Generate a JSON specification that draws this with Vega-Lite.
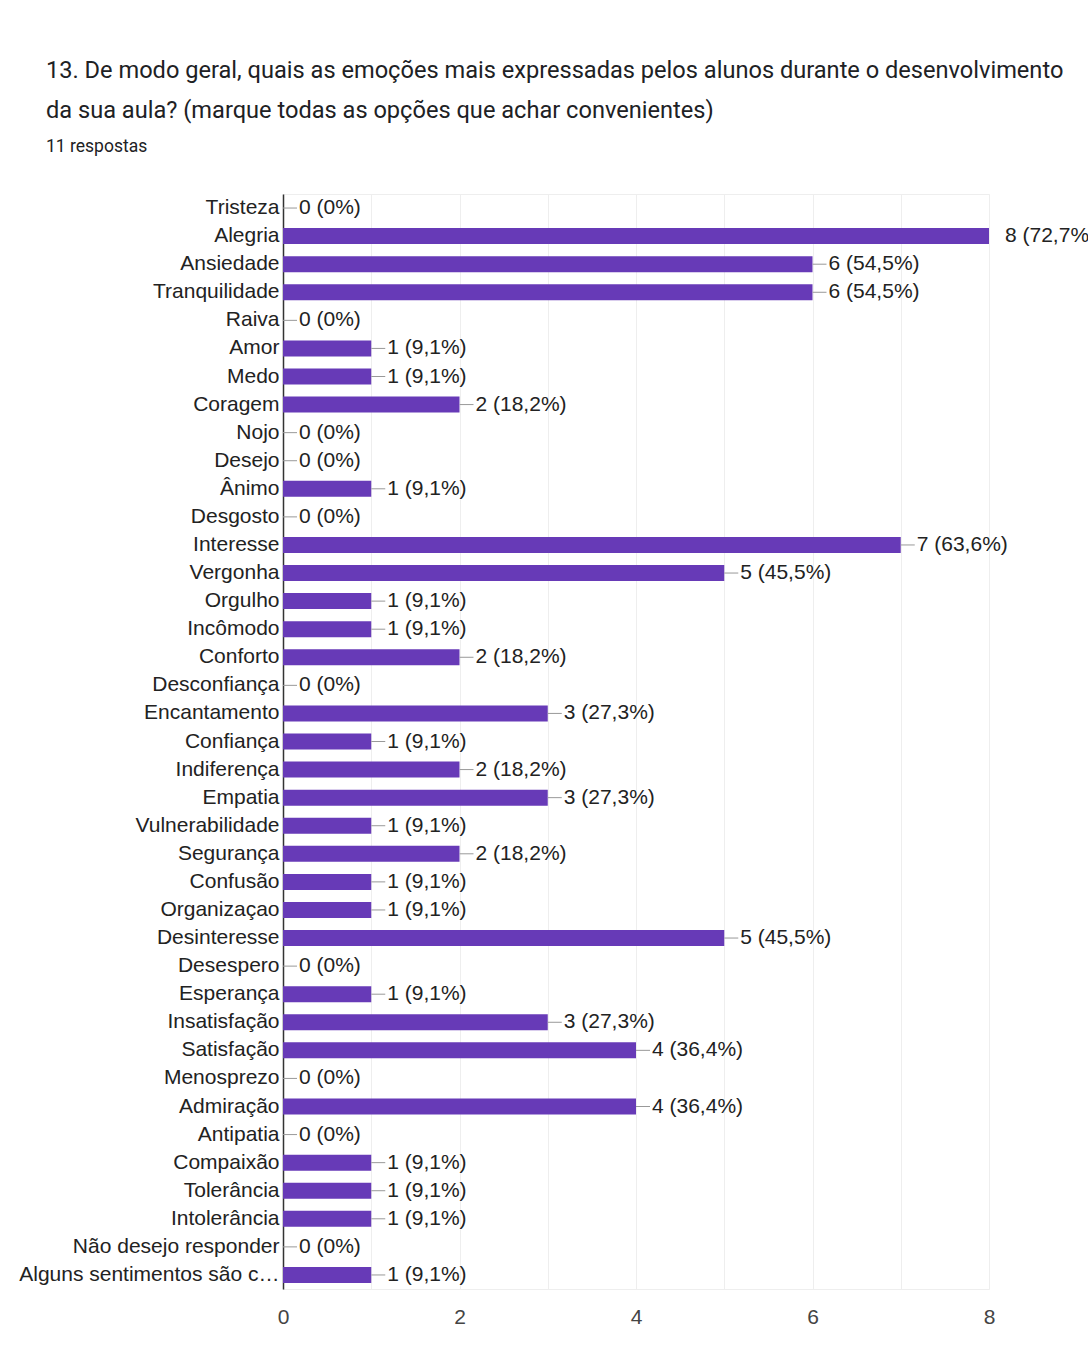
{
  "$schema": "https://vega.github.io/schema/vega-lite/v6.json",
  "autosize": {"type": "none"},
  "width": 706,
  "height": 1095,
  "padding": {"left": 283, "top": 194, "right": 99, "bottom": 63},
  "background": "#ffffff",
  "title": {
    "text": ["13. De modo geral, quais as emoções mais expressadas pelos alunos durante o desenvolvimento", "da sua aula? (marque todas as opções que achar convenientes)"],
    "subtitle": "11 respostas",
    "anchor": "start",
    "frame": "group",
    "dx": -237,
    "offset": 39,
    "font": "Roboto",
    "fontSize": 23.6,
    "fontWeight": "normal",
    "color": "#202124",
    "lineHeight": 40,
    "subtitleFont": "Roboto",
    "subtitleFontSize": 17.5,
    "subtitleColor": "#202124",
    "subtitlePadding": 15
  },
  "config": {
    "view": {"stroke": "#eeeeee"},
    "font": "Liberation Sans"
  },
  "data": {
    "values": [
      {"emocao": "Tristeza", "value": 0, "label": "0 (0%)"},
      {"emocao": "Alegria", "value": 8, "label": "8 (72,7%)"},
      {"emocao": "Ansiedade", "value": 6, "label": "6 (54,5%)"},
      {"emocao": "Tranquilidade", "value": 6, "label": "6 (54,5%)"},
      {"emocao": "Raiva", "value": 0, "label": "0 (0%)"},
      {"emocao": "Amor", "value": 1, "label": "1 (9,1%)"},
      {"emocao": "Medo", "value": 1, "label": "1 (9,1%)"},
      {"emocao": "Coragem", "value": 2, "label": "2 (18,2%)"},
      {"emocao": "Nojo", "value": 0, "label": "0 (0%)"},
      {"emocao": "Desejo", "value": 0, "label": "0 (0%)"},
      {"emocao": "Ânimo", "value": 1, "label": "1 (9,1%)"},
      {"emocao": "Desgosto", "value": 0, "label": "0 (0%)"},
      {"emocao": "Interesse", "value": 7, "label": "7 (63,6%)"},
      {"emocao": "Vergonha", "value": 5, "label": "5 (45,5%)"},
      {"emocao": "Orgulho", "value": 1, "label": "1 (9,1%)"},
      {"emocao": "Incômodo", "value": 1, "label": "1 (9,1%)"},
      {"emocao": "Conforto", "value": 2, "label": "2 (18,2%)"},
      {"emocao": "Desconfiança", "value": 0, "label": "0 (0%)"},
      {"emocao": "Encantamento", "value": 3, "label": "3 (27,3%)"},
      {"emocao": "Confiança", "value": 1, "label": "1 (9,1%)"},
      {"emocao": "Indiferença", "value": 2, "label": "2 (18,2%)"},
      {"emocao": "Empatia", "value": 3, "label": "3 (27,3%)"},
      {"emocao": "Vulnerabilidade", "value": 1, "label": "1 (9,1%)"},
      {"emocao": "Segurança", "value": 2, "label": "2 (18,2%)"},
      {"emocao": "Confusão", "value": 1, "label": "1 (9,1%)"},
      {"emocao": "Organizaçao", "value": 1, "label": "1 (9,1%)"},
      {"emocao": "Desinteresse", "value": 5, "label": "5 (45,5%)"},
      {"emocao": "Desespero", "value": 0, "label": "0 (0%)"},
      {"emocao": "Esperança", "value": 1, "label": "1 (9,1%)"},
      {"emocao": "Insatisfação", "value": 3, "label": "3 (27,3%)"},
      {"emocao": "Satisfação", "value": 4, "label": "4 (36,4%)"},
      {"emocao": "Menosprezo", "value": 0, "label": "0 (0%)"},
      {"emocao": "Admiração", "value": 4, "label": "4 (36,4%)"},
      {"emocao": "Antipatia", "value": 0, "label": "0 (0%)"},
      {"emocao": "Compaixão", "value": 1, "label": "1 (9,1%)"},
      {"emocao": "Tolerância", "value": 1, "label": "1 (9,1%)"},
      {"emocao": "Intolerância", "value": 1, "label": "1 (9,1%)"},
      {"emocao": "Não desejo responder", "value": 0, "label": "0 (0%)"},
      {"emocao": "Alguns sentimentos são c…", "value": 1, "label": "1 (9,1%)"}
    ]
  },
  "encoding": {
    "y": {
      "field": "emocao",
      "type": "nominal",
      "sort": null,
      "scale": {"paddingInner": 0.43, "paddingOuter": 0.215},
      "axis": {
        "title": null,
        "ticks": false,
        "domainColor": "#333333",
        "domainWidth": 1.5,
        "labelFont": "Liberation Sans",
        "labelFontSize": 21,
        "labelColor": "#222222",
        "labelPadding": 4,
        "labelLimit": 400,
        "grid": false
      }
    },
    "x": {
      "field": "value",
      "type": "quantitative",
      "scale": {"domain": [0, 8], "nice": false},
      "axis": {
        "title": null,
        "values": [0, 1, 2, 3, 4, 5, 6, 7, 8],
        "labelExpr": "datum.value % 2 == 0 ? datum.label : ''",
        "labelFlush": false,
        "domain": false,
        "ticks": false,
        "grid": true,
        "gridColor": "#eeeeee",
        "gridWidth": 1,
        "labelFont": "Liberation Sans",
        "labelFontSize": 21,
        "labelColor": "#444444",
        "labelPadding": 17
      }
    }
  },
  "layer": [
    {
      "mark": {"type": "bar", "color": "#673ab7"}
    },
    {
      "mark": {"type": "rule", "color": "#999999", "strokeWidth": 1, "x2Offset": 14, "clip": true},
      "encoding": {
        "x2": {"field": "value"}
      }
    },
    {
      "mark": {"type": "text", "align": "left", "baseline": "middle", "dx": 16, "font": "Liberation Sans", "fontSize": 21, "color": "#222222"},
      "encoding": {
        "text": {"field": "label"}
      }
    }
  ]
}
